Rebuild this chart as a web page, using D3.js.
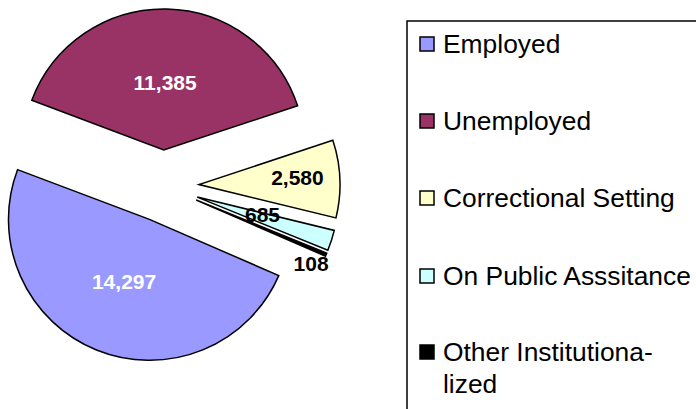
<!DOCTYPE html>
<html>
<head>
<meta charset="utf-8">
<script src="https://cdn.jsdelivr.net/npm/d3@7"></script>
<style>
  html, body { margin: 0; padding: 0; background: #fff; }
  svg { display: block; }
</style>
</head>
<body>
<svg id="chart" width="696" height="409"></svg>
<script>
// ---- data ----
const categories = ["Employed", "Unemployed", "Correctional Setting", "On Public Asssitance", "Other Institutionalized"];
const legendLines = [["Employed"], ["Unemployed"], ["Correctional Setting"], ["On Public Asssitance"], ["Other Institutiona-", "lized"]];
const values = [14297, 11385, 2580, 685, 108];
const labels = ["14,297", "11,385", "2,580", "685", "108"];

// ---- style ----
const colors = ["#9999FF", "#993366", "#FFFFCC", "#CCFFFF", "#000000"];
const labelColors = ["#FFFFFF", "#FFFFFF", "#000000", "#000000", "#000000"];
const labelRadiusFrac = [0.48, 0.48, 0.70, 0.48, 0.93];
const labelAngleShiftDeg = [0, 0, -1.7, -2.5, 6];

const svg = d3.select("#chart");
const font = "'Liberation Sans', Arial, Helvetica, sans-serif";

const cx = 163, cy = 186, R = 141, explode = 36;
const start = 113.5 * Math.PI / 180;

const pie = d3.pie().sort(null).value(d => d).startAngle(start).endAngle(start + 2 * Math.PI);
const arcs = pie(values);
const arcGen = d3.arc().innerRadius(0).outerRadius(R);

const g = svg.append("g").attr("transform", `translate(${cx},${cy})`);

arcs.forEach((a, i) => {
  const mid = (a.startAngle + a.endAngle) / 2;
  const ox = Math.sin(mid) * explode, oy = -Math.cos(mid) * explode;
  const sg = g.append("g").attr("transform", `translate(${ox},${oy})`);
  sg.append("path")
    .attr("d", arcGen(a))
    .attr("fill", colors[i])
    .attr("stroke", "#000")
    .attr("stroke-width", 1.5)
    .attr("stroke-linejoin", "miter");
});

arcs.forEach((a, i) => {
  const mid = (a.startAngle + a.endAngle) / 2;
  const ox = Math.sin(mid) * explode, oy = -Math.cos(mid) * explode;
  const la = mid + labelAngleShiftDeg[i] * Math.PI / 180;
  const lr = labelRadiusFrac[i] * R;
  g.append("text")
    .attr("x", ox + Math.sin(la) * lr)
    .attr("y", oy - Math.cos(la) * lr)
    .attr("dy", "0.35em")
    .attr("text-anchor", "middle")
    .attr("font-family", font)
    .attr("font-weight", "bold")
    .attr("font-size", 21)
    .attr("fill", labelColors[i])
    .text(labels[i]);
});

// ---- legend ----
const legend = svg.append("g");
legend.append("rect")
  .attr("x", 407).attr("y", 21)
  .attr("width", 320).attr("height", 420)
  .attr("fill", "#fff")
  .attr("stroke", "#000")
  .attr("stroke-width", 1.5);

const baselines = [53, 130, 207, 285, 361];
categories.forEach((c, i) => {
  const y = baselines[i];
  legend.append("rect")
    .attr("x", 420).attr("y", y - 16)
    .attr("width", 14).attr("height", 14)
    .attr("fill", colors[i])
    .attr("stroke", "#000")
    .attr("stroke-width", 1.5);
  const t = legend.append("text")
    .attr("x", 443).attr("y", y)
    .attr("font-family", font)
    .attr("font-size", 26.4)
    .attr("fill", "#000");
  legendLines[i].forEach((ln, j) => {
    t.append("tspan").attr("x", 443).attr("dy", j === 0 ? 0 : 32).text(ln);
  });
});
</script>
</body>
</html>
